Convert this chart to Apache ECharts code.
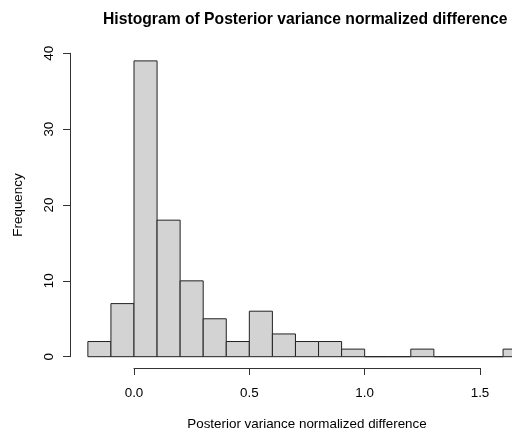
<!DOCTYPE html>
<html>
<head>
<meta charset="utf-8">
<script src="https://cdn.jsdelivr.net/npm/echarts@6/dist/echarts.min.js"></script>
<style>
  html, body { margin: 0; padding: 0; background: #fff; }
  #chart { width: 512px; height: 431px; }
</style>
</head>
<body>
<div id="chart"></div>
<script>
// Histogram bin breaks and counts
const binBreaks = [-0.2, -0.1, 0.0, 0.1, 0.2, 0.3, 0.4, 0.5, 0.6, 0.7, 0.8, 0.9, 1.0, 1.1, 1.2, 1.3, 1.4, 1.5, 1.6, 1.7];
const binCounts = [2, 7, 39, 18, 10, 5, 2, 6, 3, 2, 2, 1, 0, 0, 1, 0, 0, 0, 1];
const xTicks = [0.0, 0.5, 1.0, 1.5];
const yTicks = [0, 10, 20, 30, 40];

const titleText = 'Histogram of Posterior variance normalized difference';
const xLabel = 'Posterior variance normalized difference';
const yLabel = 'Frequency';

const rows = binCounts.map((c, i) => [binBreaks[i], binBreaks[i + 1], c]);

const font = 'Liberation Sans, Arial, sans-serif';
const chart = echarts.init(document.getElementById('chart'), null, { renderer: 'canvas' });

chart.setOption({
  animation: false,
  backgroundColor: '#ffffff',
  title: {
    text: titleText,
    left: 98,
    top: 7,
    textStyle: { fontFamily: font, fontWeight: 'bold', fontSize: 15.7, color: '#000' }
  },
  grid: {
    left: 134, right: 32, top: 53.3, bottom: 74.3,
    containLabel: false,
    outerBoundsMode: 'none'
  },
  xAxis: {
    type: 'value',
    min: xTicks[0],
    max: xTicks[xTicks.length - 1],
    interval: 0.5,
    offset: 11.3,
    splitLine: { show: false },
    axisLine: { show: true, onZero: false, lineStyle: { color: '#333', width: 1 } },
    axisTick: { show: true, length: 7, lineStyle: { color: '#333' } },
    axisLabel: {
      margin: 19, fontFamily: font, fontSize: 13.4, color: '#000',
      formatter: v => v.toFixed(1)
    },
    name: xLabel,
    nameLocation: 'middle',
    nameGap: 50,
    nameTextStyle: { fontFamily: font, fontSize: 13.4, color: '#000' }
  },
  yAxis: {
    type: 'value',
    min: yTicks[0],
    max: yTicks[yTicks.length - 1],
    interval: 10,
    offset: 64,
    splitLine: { show: false },
    axisLine: { show: true, onZero: false, lineStyle: { color: '#333', width: 1 } },
    axisTick: { show: true, length: 7, lineStyle: { color: '#333' } },
    axisLabel: {
      rotate: 90, margin: 14, fontFamily: font, fontSize: 13.4, color: '#000'
    },
    name: yLabel,
    nameLocation: 'middle',
    nameRotate: 90,
    nameGap: 45,
    nameTextStyle: { fontFamily: font, fontSize: 13.4, color: '#000' }
  },
  series: [{
    type: 'custom',
    clip: false,
    data: rows,
    renderItem: function (params, api) {
      const p0 = api.coord([api.value(0), api.value(2)]);
      const p1 = api.coord([api.value(1), 0]);
      return {
        type: 'rect',
        shape: { x: p0[0], y: p0[1], width: p1[0] - p0[0], height: p1[1] - p0[1] },
        style: { fill: '#d3d3d3', stroke: '#222', lineWidth: 1 }
      };
    }
  }]
});
</script>
</body>
</html>
